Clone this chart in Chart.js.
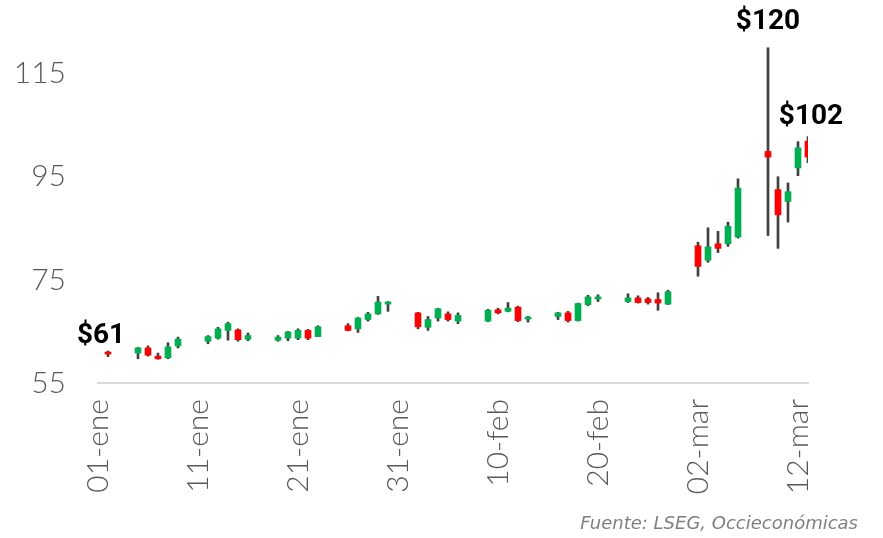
<!DOCTYPE html>
<html lang="es">
<head>
<meta charset="utf-8">
<title>Precio del petróleo</title>
<script src="https://cdn.jsdelivr.net/npm/chart.js@4.4.1/dist/chart.umd.min.js"></script>
<style>
  html, body { margin: 0; padding: 0; background: #fff; }
  #wrap { position: relative; width: 883px; height: 538px; }
  #fuente { position: absolute; right: 25px; top: 512px; line-height: 20px;
            font: italic 18px "DejaVu Sans", sans-serif; color: #7f7f7f; }
</style>
</head>
<body>
<div id="wrap">
  <canvas id="precioChart" width="883" height="538"></canvas>
  <div id="fuente">Fuente: LSEG, Occieconómicas</div>
</div>
<script>
// velas diarias (apertura, maximo, minimo, cierre)
const fechas = [
  '2026-01-02',
  '2026-01-05', '2026-01-06', '2026-01-07', '2026-01-08', '2026-01-09',
  '2026-01-12', '2026-01-13', '2026-01-14', '2026-01-15', '2026-01-16',
  '2026-01-19', '2026-01-20', '2026-01-21', '2026-01-22', '2026-01-23',
  '2026-01-26', '2026-01-27', '2026-01-28', '2026-01-29', '2026-01-30',
  '2026-02-02', '2026-02-03', '2026-02-04', '2026-02-05', '2026-02-06',
  '2026-02-09', '2026-02-10', '2026-02-11', '2026-02-12', '2026-02-13',
  '2026-02-16', '2026-02-17', '2026-02-18', '2026-02-19', '2026-02-20',
  '2026-02-23', '2026-02-24', '2026-02-25', '2026-02-26', '2026-02-27',
  '2026-03-02', '2026-03-03', '2026-03-04', '2026-03-05', '2026-03-06',
  '2026-03-09', '2026-03-10', '2026-03-11', '2026-03-12', '2026-03-13'
];
const apertura = [
  61.0,
  60.8, 61.8, 60.2, 59.9, 62.2,
  63.1, 63.7, 65.2, 65.3, 63.5,
  63.3, 63.7, 63.7, 65.2, 64.0,
  66.1, 65.5, 67.3, 68.4, 70.3,
  68.6, 65.8, 67.6, 68.4, 67.0,
  67.0, 69.2, 68.9, 69.7, 67.4,
  67.9, 68.6, 67.1, 70.2, 71.3,
  70.8, 71.5, 71.3, 71.2, 70.3,
  81.6, 78.8, 82.0, 82.0, 83.3,
  99.9, 92.5, 90.2, 96.7, 101.9
];
const maximo = [
  61.2,
  61.9, 62.2, 60.8, 62.8, 63.9,
  64.2, 65.8, 66.8, 65.5, 64.7,
  64.2, 65.0, 65.5, 65.4, 66.1,
  66.5, 67.7, 68.7, 71.8, 70.8,
  68.7, 67.9, 69.5, 68.8, 68.6,
  69.3, 69.5, 70.6, 69.9, 67.9,
  68.7, 68.9, 70.5, 72.0, 72.1,
  72.3, 71.9, 71.6, 72.5, 73.0,
  82.3, 85.1, 84.4, 86.2, 94.6,
  120.0, 95.0, 93.8, 101.8, 102.8
];
const minimo = [
  60.1,
  59.7, 60.2, 59.6, 59.7, 61.8,
  62.6, 63.5, 63.3, 63.1, 63.2,
  63.1, 63.2, 63.4, 63.4, 64.0,
  65.1, 64.8, 67.0, 68.3, 68.9,
  65.5, 65.2, 67.0, 67.0, 66.5,
  66.9, 68.4, 68.8, 66.9, 66.8,
  67.3, 66.8, 67.0, 70.0, 70.8,
  70.6, 70.5, 70.3, 69.1, 70.2,
  75.7, 78.4, 80.3, 81.5, 83.1,
  83.6, 81.1, 86.2, 95.2, 97.7
];
const cierre = [
  60.6,
  61.8, 60.4, 59.7, 62.0, 63.5,
  64.0, 65.5, 66.5, 63.4, 64.2,
  63.9, 64.9, 65.2, 63.7, 65.9,
  65.2, 67.6, 68.4, 70.7, 70.7,
  65.9, 67.3, 69.4, 67.3, 68.1,
  69.1, 68.6, 69.5, 67.1, 67.8,
  68.6, 67.1, 70.4, 71.7, 71.7,
  71.5, 70.6, 70.6, 70.5, 72.7,
  77.6, 81.4, 81.1, 85.4, 92.8,
  98.8, 87.6, 92.1, 100.6, 98.8
];

// eje x: dias contados desde el 01-ene
const xTickDias = [0, 10, 20, 30, 40, 50, 60, 70];
const xTickLabels = ['01-ene', '11-ene', '21-ene', '31-ene', '10-feb', '20-feb', '02-mar', '12-mar'];
const yTicks = [55, 75, 95, 115];

// precios destacados
const destacadoFechas = ['2026-01-02', '2026-03-09', '2026-03-13'];
const destacadoTextos = ['$61', '$120', '$102'];

const inicio = Date.parse('2026-01-01');
const dia = f => Math.round((Date.parse(f) - inicio) / 86400000);

const verde = '#00b050';
const rojo = '#ff0000';
const mecha = '#404040';

const cuerpos = fechas.map((f, i) => ({ x: dia(f), y: [apertura[i], cierre[i]] }));
const mechas = fechas.map((f, i) => ({ x: dia(f), y: [minimo[i], maximo[i]] }));
const colores = fechas.map((f, i) => cierre[i] >= apertura[i] ? verde : rojo);

const destacados = {
  id: 'destacados',
  afterDatasetsDraw(chart) {
    const { ctx, scales } = chart;
    const desplaz = [[-7, -15], [0, -26], [3, -19]];
    ctx.save();
    ctx.font = 'bold 28px Roboto, sans-serif';
    ctx.fillStyle = '#000';
    ctx.textAlign = 'center';
    ctx.textBaseline = 'middle';
    destacadoFechas.forEach((f, k) => {
      const i = fechas.indexOf(f);
      const x = scales.x.getPixelForValue(dia(f)) + desplaz[k][0];
      const y = scales.y.getPixelForValue(maximo[i]) + desplaz[k][1];
      ctx.fillText(destacadoTextos[k], x, y);
    });
    ctx.restore();
  }
};

const sinRelleno = s => {
  s.paddingTop = 0;
  s.paddingBottom = 0;
  s.paddingLeft = 0;
  s.paddingRight = 0;
};

new Chart(document.getElementById('precioChart'), {
  type: 'bar',
  data: {
    datasets: [
      {
        label: 'Cuerpo',
        data: cuerpos,
        backgroundColor: colores,
        barThickness: 6,
        minBarLength: 2,
        grouped: false,
        order: 0
      },
      {
        label: 'Mecha',
        data: mechas,
        backgroundColor: mecha,
        barThickness: 2,
        grouped: false,
        order: 1
      }
    ]
  },
  options: {
    responsive: false,
    animation: false,
    layout: { padding: { top: 22, right: 75, left: 0, bottom: 0 } },
    plugins: {
      legend: { display: false },
      tooltip: { enabled: false }
    },
    scales: {
      x: {
        type: 'linear',
        min: 0,
        max: 71,
        offset: false,
        grid: { display: false },
        border: { display: true, color: '#d9d9d9', width: 2 },
        afterBuildTicks: s => { s.ticks = xTickDias.map(v => ({ value: v })); },
        afterFit: s => { s.height = 155; sinRelleno(s); },
        ticks: {
          autoSkip: false,
          minRotation: 90,
          maxRotation: 90,
          padding: 8,
          color: '#595959',
          font: { family: 'Lato, "DejaVu Sans"', size: 30, weight: '300' },
          callback: v => xTickLabels[xTickDias.indexOf(v)]
        }
      },
      y: {
        min: 55,
        max: 125,
        beginAtZero: false,
        grid: { display: false },
        border: { display: false },
        afterBuildTicks: s => { s.ticks = yTicks.map(v => ({ value: v })); },
        afterFit: s => { s.width = 98; sinRelleno(s); },
        ticks: {
          padding: 24,
          color: '#595959',
          font: { family: 'Lato, "DejaVu Sans"', size: 30, weight: '300' }
        }
      }
    }
  },
  plugins: [destacados]
});
</script>
</body>
</html>
